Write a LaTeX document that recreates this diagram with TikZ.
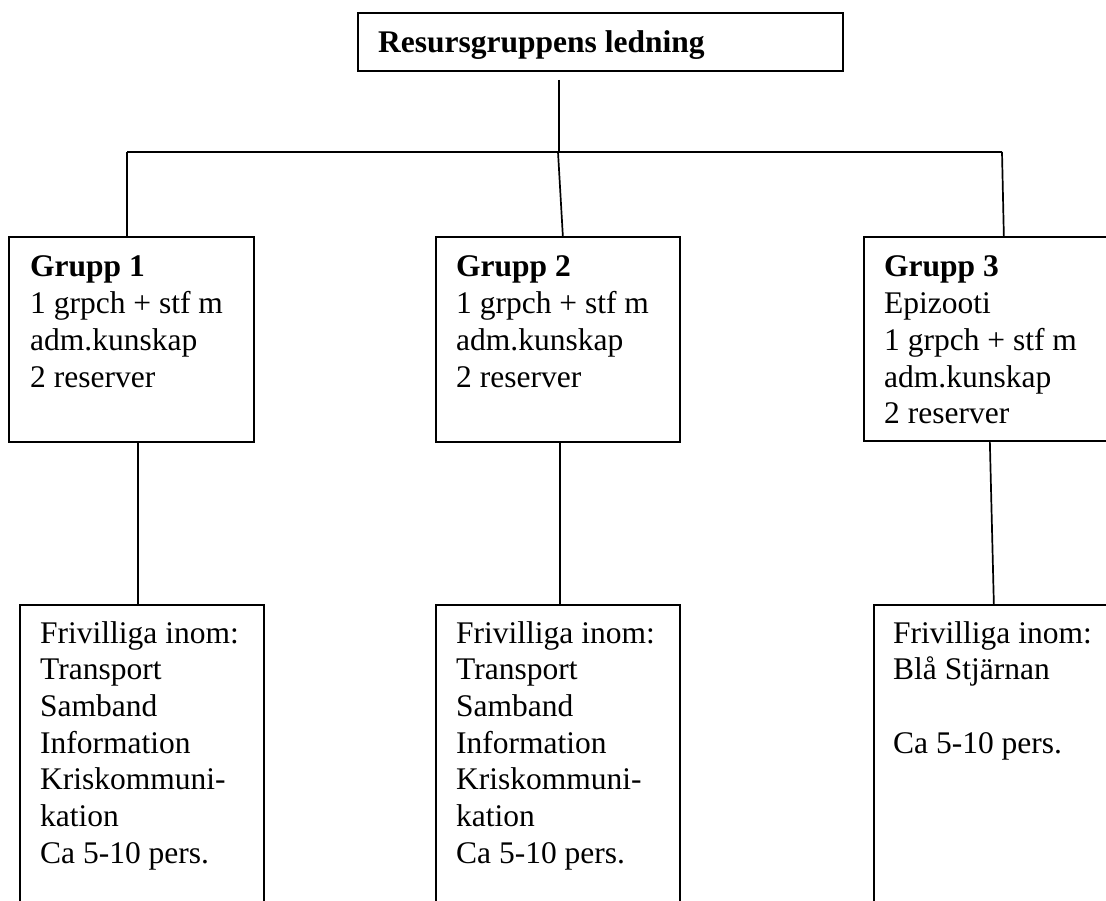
\documentclass[tikz,border=0pt]{standalone}
\usepackage{fontspec}
\setmainfont{Liberation Serif}
\tikzset{
  box/.style={draw, line width=1.7pt, rectangle, inner sep=0pt, anchor=north west},
  txt/.style={anchor=base west, inner sep=0pt, align=flush left, text width=235pt,
              font=\fontsize{31.5}{36.7}\selectfont,
              execute at begin node={\spaceskip=0pt\xspaceskip=0pt}},
  link/.style={line width=1.7pt},
}
\begin{document}
\begin{tikzpicture}[x=1pt,y=-1pt]
\useasboundingbox (0,0) rectangle (1106,901);
\clip (0,0) rectangle (1106,901);
% boxes
\node[box, minimum width=485pt, minimum height=58pt] (lead) at (357,12) {};
\node[box, minimum width=245pt, minimum height=205pt] (g1) at (8,236) {};
\node[box, minimum width=244pt, minimum height=205pt] (g2) at (435,236) {};
\node[box, minimum width=300pt, minimum height=204pt] (g3) at (863,236) {};
\node[box, minimum width=244pt, minimum height=400pt] (b1) at (19,604) {};
\node[box, minimum width=244pt, minimum height=400pt] (b2) at (435,604) {};
\node[box, minimum width=300pt, minimum height=400pt] (b3) at (873,604) {};
% texts
\node[txt, text width=460pt, font=\bfseries\fontsize{31.5}{36.7}\selectfont] (leadt) at (378,53) {Resursgruppens ledning};
\node[txt] (g1t) at (30,277) {\textbf{Grupp 1}\\1 grpch + stf m\\adm.kunskap\\2 reserver};
\node[txt] (g2t) at (456,277) {\textbf{Grupp 2}\\1 grpch + stf m\\adm.kunskap\\2 reserver};
\node[txt] (g3t) at (884,277) {\textbf{Grupp 3}\\Epizooti\\1 grpch + stf m\\adm.kunskap\\2 reserver};
\node[txt] (b1t) at (40,643) {Frivilliga inom:\\Transport\\Samband\\Information\\Kriskommuni-\\kation\\Ca 5-10 pers.};
\node[txt] (b2t) at (456,643) {Frivilliga inom:\\Transport\\Samband\\Information\\Kriskommuni-\\kation\\Ca 5-10 pers.};
\node[txt] (b3t) at (893,643) {Frivilliga inom:\\Blå Stjärnan\\[36.7pt]Ca 5-10 pers.};
% connectors
\coordinate (c0) at (559,80);
\coordinate (hub) at (559,152);
\coordinate (hubL) at (127,152);
\coordinate (hubM) at (558,152);
\coordinate (hubR) at (1002,152);
\draw[link] (c0) -- (hub);
\draw[link] (hubL) -- (hubR);
\draw[link] (hubL) -- (hubL |- g1.north);
\draw[link] (hubM) -- ([xshift=5pt]g2.north);
\draw[link] (hubR) -- ([xshift=-10pt]g3.north);
\draw[link] ([xshift=6.5pt]g1.south) -- ([xshift=-4pt]b1.north);
\draw[link] ([xshift=2pt]g2.south) -- ([xshift=2pt]b2.north);
\draw[link] ([xshift=-24pt]g3.south) -- ([xshift=-30pt]b3.north);
\end{tikzpicture}
\end{document}
